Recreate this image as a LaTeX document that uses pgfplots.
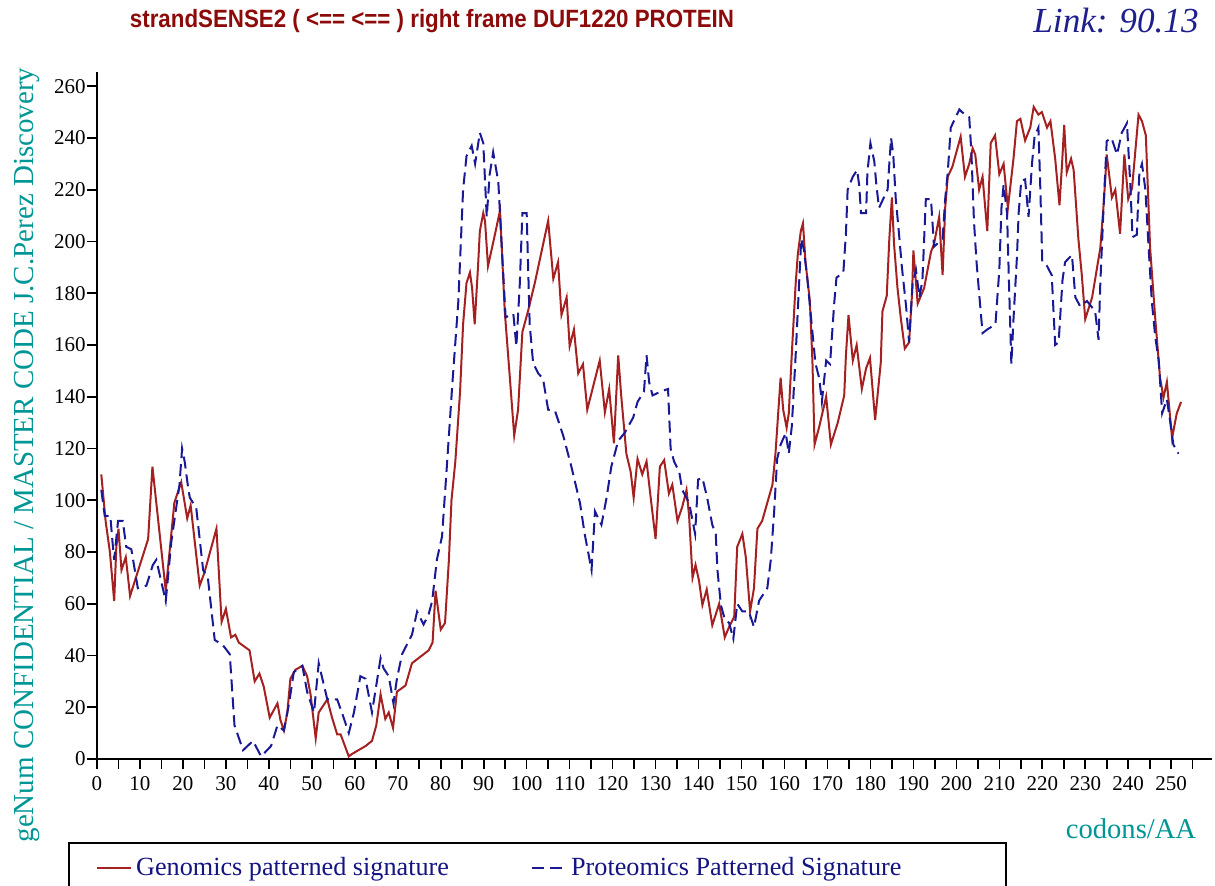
\documentclass[border=0pt]{standalone}
\usepackage{pgfplots}
\pgfplotsset{compat=1.18}
\usepackage{fontspec}
\setmainfont{Liberation Serif}
\newfontfamily\titlefont{Liberation Sans}
\definecolor{gred}{RGB}{165,32,32}
\definecolor{pblue}{RGB}{25,25,150}
\definecolor{titlered}{RGB}{140,10,10}
\definecolor{linkblue}{RGB}{30,30,140}
\definecolor{tealc}{RGB}{0,150,150}
\definecolor{legnavy}{RGB}{20,20,130}
\begin{document}
\begin{tikzpicture}
\useasboundingbox (-48.5pt,-63.5pt) rectangle (559pt,379.5pt);
\begin{axis}[
  at={(0,0)}, anchor=south west,
  width=557.5pt, height=343.5pt, scale only axis,
  xmin=0, xmax=259.5, ymin=0, ymax=265.5,
  axis lines=left,
  axis line style={-, line width=1.2pt, black},
  every outer x axis line/.append style={-},
  every outer y axis line/.append style={-},
  tick align=outside,
  xtick={0,10,...,250},
  minor xtick={5,15,...,255},
  ytick={0,20,...,260},
  major tick length=5pt, minor tick length=5pt,
  tick style={line width=0.8pt, black},
  ticklabel style={font=\fontsize{10.5}{12}\selectfont},
  yticklabel style={inner xsep=0.5pt},
  /pgf/number format/assume math mode=true,
  legend columns=2,
  legend style={at={(-0.026,-0.1208)}, anchor=north west, draw=black, line width=1pt,
    font=\fontsize{13.1}{15}\selectfont, text=legnavy, inner xsep=13.5pt, inner ysep=5pt,
    /tikz/every even column/.append style={column sep=39pt}},
]
\addplot[gred, line width=1pt] table {
1 110
1.5 101
2 92
3 80
4 61
4.5 82
5 89
5.7 73
6.7 78
7.7 63
11.9 85
12.9 113
16 65
18 99
19.6 107
21 93
21.8 98
23.9 67
25 72
27.8 89
29 53
30 58
31.2 47
32.2 48
33 45
35.5 42
36.7 30
37.8 33
38.8 28
40.2 16
42 21.5
42.7 15
43.5 11
44.3 18
45 31
46.2 34.5
47.8 36
48.9 32
49.7 25
50.9 8
51.6 18
53.6 23
54.7 16
55.9 9.5
56.7 9.5
58.6 1
59.4 2
62.5 5
64 7
65 13
66 25
67.1 15.5
67.9 18
68.9 12
69.8 26
71.8 28.4
73.3 37
77.2 42
78.1 45
78.8 65
80 50
81 52.6
81.9 77
82.5 100
83.4 115
84.5 142
85.2 168
86 184
86.8 188
87.3 182
87.9 168
88.7 191
89.1 204
89.9 211
90.3 208
91 190.5
92.6 202.6
93.8 212
94.4 190.5
94.9 173
96.1 147
97.1 125
98 135
99 165
100.3 173
101.9 184
105 208
106.2 185.6
107.3 192
108.1 171.6
109.3 178.4
110 159.5
111 166
112 149
113.1 152.6
114.1 135
117 154
118.2 134
119.2 143
120.3 122
121.3 156
122 140.5
123.2 118
124.2 111
124.9 101
125.8 116
126.9 110
127.9 115
129 99
130 85
131 113
132 115.5
133.1 102.6
133.9 106
135.1 92
136.2 97.4
137.2 104
137.8 94
138.6 70
139.3 75
140.1 69
140.9 59.5
141.9 65.5
143.2 51.7
144.8 60
146.1 47
147.1 51
148.3 55
149 82
150.2 87
151 78
152 57
152.9 66
153.7 89
154.8 92
156 99
157.2 106
157.9 118
159.1 147.4
159.7 135
160.5 128
161 133.6
161.8 159.5
162.6 183.6
163.1 195
163.8 204
164.3 207
164.9 192
165.9 177
166.5 154
167 121.5
168.1 128.5
169.7 140
170.8 121.5
172.4 130
173.9 140.5
174.3 156
174.9 171.6
175.9 154
176.8 160
178 143
179 151
179.9 155
181.1 131
182.4 153
182.8 173
183.8 179
184.4 201
185 217
185.5 199
186.3 182
187.1 170
188 158.6
189 161
189.7 180
190 196.5
191 176
192.5 182
194.1 196
194.8 199
196 209.5
196.8 187
197.4 213
198 225
199.1 229
201 240.5
202 225
203 230
203.8 236
204.4 233.6
205.3 220
206.1 225
206.9 209.5
207.2 204
208 238
209 241
210 226
211 230
212 213
213.3 232
214.1 246.5
214.9 247.4
216 239
217.2 244
218 252
219.1 249
219.9 250
221.1 244
221.9 246.5
223 232
224 214
224.6 230
225.1 245
225.7 226.7
226.7 232
227.3 227.6
228.4 201
229.2 187
230 170
231.6 178.4
233.5 197.4
234.3 214.7
235 233.6
236.2 217
237 220
238.1 203
239.1 233.6
240 216.4
240.9 220.7
242.4 249
243.2 246.5
244.1 241
245.1 197.4
246.3 170
247.4 147.4
248.2 139.6
249 145.7
250.2 124
251.3 133.6
252.3 138
};
\addlegendentry{Genomics patterned signature}
\addplot[pblue, line width=1pt, dash pattern=on 6pt off 3pt] table {
1 104
1.8 94
3.1 94
3.6 84
4 77
4.9 92
6 92
6.8 82
8 81
9.5 66
11.5 67
13 75
13.8 77
16 61
17.3 84
19.2 106
19.8 120
20.4 115
21.2 105
21.6 101
23.1 97
24.7 73
25.8 70
27.4 46
29.3 44
30.9 40.5
32 13
34 3.4
36.3 7
38.2 1
40.5 5
42 13
43.5 11
44.7 21.5
45.8 33.6
47.8 36
48.9 26
50.5 18
51.6 37
53.6 23
55.9 23
57.4 16
58.6 10
59.8 18
61.3 32
62.5 31
64 18
66 39
66.7 35
67.9 32
69 21.5
69.8 31
71 40.5
73.3 48
74.5 57
76 52
77.2 56
78 61
79.1 77
80.3 86
81.5 115
82.7 145
84.1 177
85.2 220
86 233
87.2 237
88 230
89.1 242
89.9 238
90.7 209.5
91.4 226
92.2 234.5
93.4 223
94.1 201
95.1 170.7
96.9 172
97.6 159.5
98.4 183.6
99 211
100 211
100.7 168
101.5 153
102.7 149
103.8 147
105 135
106.6 134.5
108.5 125
110.4 113
112.4 99
113.5 87
115.1 73
115.9 95.7
117.4 90.5
118.6 101
119.7 113
121.3 123
122.8 126
124.8 132
125.8 138
127.3 142
127.9 156
128.5 145.7
129.3 140.5
131.2 142
132.9 143
133.5 120
134.3 115
135.5 111
136.2 104
137.8 99
139.2 87
139.9 108
140.9 108.6
142 101
143.2 90.5
144 87
144.4 73
145.2 59.5
146.1 54
147.1 52.6
148.1 46.5
149 60
150.2 57
151.7 57
152.9 51
154.1 61.2
156 66
156.8 76.7
157.6 95.7
158.3 116
159.1 121.5
160.3 126
161 118
161.7 128.5
162.6 156
163.4 183.6
163.9 201
164.5 197
165.3 186
166.5 165
167.2 153
168.1 147
168.7 138
169.7 154
170.6 152.6
171.6 176.7
172.1 186
173.7 188
174.3 203
174.7 220
175.9 225
176.9 227.6
177.4 221.6
177.8 211
179 211
179.3 226.7
180 238
180.9 231
181.4 221.6
182 213
184 220
184.8 240
185.3 234
185.9 216.4
186.6 204
187.3 190.5
188.3 175
189 161
189.8 183.6
190.6 189
191.4 178.4
192.1 185
192.9 216.4
194.1 216.4
194.8 198
196.8 201
197.4 216.4
198 226.7
198.7 244
200.7 251
201.3 250
203 248
203.5 234.5
204.1 207.8
204.7 192
205.3 180
206.1 164.6
207.2 166
209.1 168
210 189
210.5 213
211 222
211.8 211
212.2 187
212.8 152.6
213.3 170
214.1 194
214.5 211
215.1 223.4
216 224
216.8 209.5
217.6 230
218.2 240.5
219.1 244
219.5 223
220 192
221.1 190.5
222.2 187
223 160
223.8 161
224.7 185
225.3 192
226.9 194.8
227.7 178.4
228.8 175
230.4 177
232.3 173
233.1 162
233.5 183.6
234.3 214.7
235 238.8
236.1 240
237.4 233.6
238.5 242
239.7 245.7
240.5 221.6
241 201.7
242 202.6
242.6 226.7
243.2 230
244 220
244.7 199
245.5 176.7
246.3 163
247.1 154
247.9 133.6
249 139
249.8 130
250.5 121.5
251.7 118
};
\addlegendentry{\makebox[202pt][l]{Proteomics Patterned Signature}}
\end{axis}
\node[text=titlered] at (167.5pt,369pt) {\resizebox{302pt}{\height}{\titlefont\fontsize{12.5}{14}\selectfont\bfseries strandSENSE2 ( <== <== ) right frame DUF1220 PROTEIN}};
\node[text=linkblue] at (509.5pt,369pt) {\fontsize{17.6}{20}\selectfont\itshape Link: 90.13};
\node[text=tealc, rotate=90] at (-35pt,152pt) {\fontsize{14.5}{16}\selectfont geNum CONFIDENTIAL / MASTER CODE J.C.Perez Discovery};
\node[text=tealc] at (517pt,-35pt) {\fontsize{14.3}{16}\selectfont codons/AA};
\end{tikzpicture}
\end{document}
